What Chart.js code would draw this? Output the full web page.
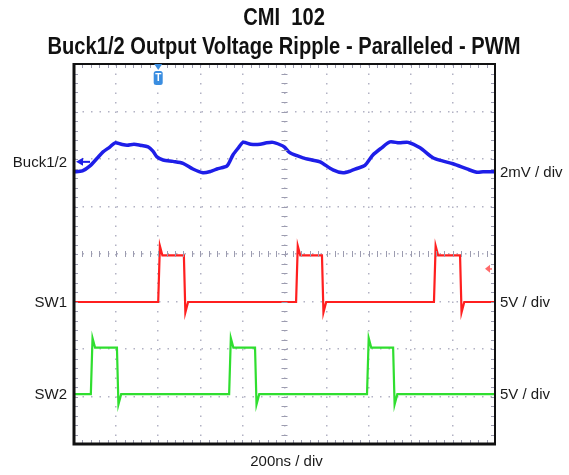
<!DOCTYPE html>
<html>
<head>
<meta charset="utf-8">
<title>CMI 102 - Buck1/2 Output Voltage Ripple</title>
<script src="https://cdn.jsdelivr.net/npm/chart.js@4.4.1/dist/chart.umd.min.js"></script>
<style>
    html, body { margin: 0; padding: 0; background: #ffffff; }
    #wrap { width: 569px; height: 475px; position: relative; }
</style>
</head>
<body>
<div id="wrap"><canvas id="scopeChart"></canvas></div>
<script>
// Titles and labels
const titleLines = ['CMI  102', 'Buck1/2 Output Voltage Ripple - Paralleled - PWM'];
const channelNames = ['Buck1/2', 'SW1', 'SW2'];
const channelScaleText = ['2mV / div', '5V / div', '5V / div'];
const timeBaseText = '200ns / div';

// Time base: 200 ns per division, 10 divisions
const nsPerDiv = 200;
const timeDivs = 10;
const vertDivs = 8;

// Buck1/2 output ripple, AC coupled (ns, mV)
const rippleTime = [0, 40, 76, 110, 138, 170, 195, 225, 252, 285, 314, 352, 375, 394, 423, 470, 518, 565, 613, 650, 679, 727,
    755, 780, 803, 840, 884, 915, 945, 979, 1000, 1026, 1088, 1130, 1169, 1230, 1278, 1315, 1344, 1382, 1420, 1460, 1501,
    1545, 1587, 1644, 1705, 1750, 1800, 1867, 1914, 1943, 2000];
const rippleMv = [-0.42, -0.38, -0.17, 0.15, 0.42, 0.62, 0.80, 0.74, 0.70, 0.74, 0.70, 0.63, 0.45, 0.21, 0.08, 0.02, -0.06,
    -0.30, -0.46, -0.40, -0.30, -0.17, 0.29, 0.58, 0.82, 0.74, 0.74, 0.80, 0.82, 0.72, 0.62, 0.38, 0.17, 0.08, 0.00, -0.34,
    -0.46, -0.38, -0.28, -0.15, 0.29, 0.58, 0.84, 0.80, 0.82, 0.59, 0.17, 0.04, -0.08, -0.30, -0.44, -0.42, -0.42];

// Switch nodes: edge times (ns) and levels (V)
const sw1Rise = [400, 1055, 1710];
const sw1Fall = [522, 1178, 1834];
const sw2Rise = [80, 737, 1392];
const sw2Fall = [204, 860, 1516];
const swHigh = 4.9;
const swOvershoot = 5.9;
const swUndershoot = -1.1;

// Scope channel settings: units per division, ground marker position (divisions from bottom)
const buckPerDiv = 2, buckOffset = 5.94;
const sw1PerDiv = 5, sw1Offset = 2.99;
const sw2PerDiv = 5, sw2Offset = 1.05;
const triggerTime = 400;   // ns
const triggerLevel = 3.5;  // V on SW1

const colors = {
    buck: '#1e1ee8',
    sw1: '#ff1f1f',
    sw2: '#2fde2f',
    trigger: '#3a8de0',
    grid: '#b2b2c4',
    text: '#1a1a1a'
};

function switchTrace(rise, fall) {
    const pts = [{ x: 0, y: 0 }];
    rise.forEach((r, i) => {
        const f = fall[i];
        pts.push({ x: r, y: 0 }, { x: r + 8, y: swOvershoot }, { x: r + 20, y: swHigh },
                 { x: f, y: swHigh }, { x: f + 7, y: swUndershoot }, { x: f + 20, y: 0 });
    });
    pts.push({ x: nsPerDiv * timeDivs, y: 0 });
    return pts;
}

function channelAxis(perDiv, offset) {
    return { type: 'linear', display: false, min: -offset * perDiv, max: (vertDivs - offset) * perDiv };
}

// Frame, minor ticks, markers and labels
const scopeDecor = {
    id: 'scopeDecor',
    afterDraw(chart) {
        const { ctx, chartArea: a, scales } = chart;
        const xs = scales.x, yg = scales.yGrid;
        ctx.save();

        // minor ticks along the centre cross and frame edges
        ctx.strokeStyle = '#9c9cb0';
        ctx.lineWidth = 1;
        ctx.beginPath();
        const cx = xs.getPixelForValue(nsPerDiv * timeDivs / 2);
        const cy = yg.getPixelForValue(vertDivs / 2);
        for (let i = 1; i < timeDivs * 5; i++) {
            const px = Math.round(xs.getPixelForValue(i * nsPerDiv / 5)) + 0.5;
            ctx.moveTo(px, cy - 3); ctx.lineTo(px, cy + 3);
            ctx.moveTo(px, a.top); ctx.lineTo(px, a.top + 4);
            ctx.moveTo(px, a.bottom); ctx.lineTo(px, a.bottom - 4);
        }
        for (let i = 1; i < vertDivs * 5; i++) {
            const py = Math.round(yg.getPixelForValue(i / 5)) + 0.5;
            ctx.moveTo(cx - 3, py); ctx.lineTo(cx + 3, py);
            ctx.moveTo(a.left, py); ctx.lineTo(a.left + 4, py);
            ctx.moveTo(a.right, py); ctx.lineTo(a.right - 4, py);
        }
        ctx.stroke();

        // frame
        ctx.strokeStyle = '#111';
        ctx.lineWidth = 2;
        ctx.strokeRect(a.left, a.top, a.right - a.left, a.bottom - a.top);
        ctx.lineWidth = 3;
        ctx.beginPath();
        ctx.moveTo(a.left, a.top - 1); ctx.lineTo(a.left, a.bottom); ctx.lineTo(a.right + 1, a.bottom);
        ctx.stroke();

        // Buck1/2 channel marker
        const by = scales.yBuck.getPixelForValue(0);
        ctx.fillStyle = colors.buck;
        ctx.beginPath();
        ctx.moveTo(a.left + 2, by); ctx.lineTo(a.left + 9, by - 4); ctx.lineTo(a.left + 9, by + 4);
        ctx.closePath(); ctx.fill();
        ctx.fillRect(a.left + 8, by - 1, 8, 2);

        // trigger level marker on SW1
        const ty = scales.ySw1.getPixelForValue(triggerLevel);
        ctx.fillStyle = '#ff6a6a';
        ctx.beginPath();
        ctx.moveTo(a.right - 10, ty); ctx.lineTo(a.right - 5, ty - 4); ctx.lineTo(a.right - 5, ty + 4);
        ctx.closePath(); ctx.fill();
        ctx.fillRect(a.right - 6, ty - 0.5, 3, 1.5);

        // trigger time marker
        const tx = xs.getPixelForValue(triggerTime);
        ctx.fillStyle = colors.trigger;
        ctx.beginPath();
        ctx.moveTo(tx - 4, a.top); ctx.lineTo(tx + 4, a.top); ctx.lineTo(tx, a.top + 6);
        ctx.closePath(); ctx.fill();
        ctx.beginPath();
        ctx.roundRect(tx - 4.5, a.top + 7, 9, 14, 2.5);
        ctx.fill();
        ctx.fillStyle = '#fff';
        ctx.font = 'bold 10px "Liberation Sans", Arial, sans-serif';
        ctx.textAlign = 'center';
        ctx.textBaseline = 'middle';
        ctx.fillText('T', tx, a.top + 14.5);

        // channel labels
        ctx.fillStyle = colors.text;
        ctx.font = '15px "Liberation Sans", Arial, sans-serif';
        const axisIds = ['yBuck', 'ySw1', 'ySw2'];
        const lastVals = [rippleMv[rippleMv.length - 1], 0, 0];
        axisIds.forEach((id, i) => {
            ctx.textAlign = 'right';
            ctx.fillText(channelNames[i], a.left - 7, scales[id].getPixelForValue(0) + 1);
            ctx.textAlign = 'left';
            ctx.fillText(channelScaleText[i], a.right + 5, scales[id].getPixelForValue(lastVals[i]) + 1);
        });
        ctx.textAlign = 'center';
        ctx.fillText(timeBaseText, cx + 2, a.bottom + 18);

        // titles, narrow bold
        ctx.font = 'bold 24px "Liberation Sans Narrow", "Liberation Sans", Arial, sans-serif';
        const sx = 473 / ctx.measureText(titleLines[1]).width;
        ctx.translate(284, 0);
        ctx.scale(sx, 1);
        ctx.fillStyle = '#111';
        ctx.fillText(titleLines[0], 0, 18);
        ctx.fillText(titleLines[1], 0, 47);
        ctx.restore();
    }
};

const ctx = document.getElementById('scopeChart');
new Chart(ctx, {
    type: 'line',
    data: {
        datasets: [
            {
                label: channelNames[0],
                data: rippleTime.map((t, i) => ({ x: t, y: rippleMv[i] })),
                borderColor: colors.buck,
                borderWidth: 3.5,
                pointRadius: 0,
                tension: 0.25,
                yAxisID: 'yBuck'
            },
            {
                label: channelNames[1],
                data: switchTrace(sw1Rise, sw1Fall),
                borderColor: colors.sw1,
                borderWidth: 2.2,
                pointRadius: 0,
                tension: 0,
                yAxisID: 'ySw1'
            },
            {
                label: channelNames[2],
                data: switchTrace(sw2Rise, sw2Fall),
                borderColor: colors.sw2,
                borderWidth: 2.2,
                pointRadius: 0,
                tension: 0,
                yAxisID: 'ySw2'
            }
        ]
    },
    options: {
        responsive: true,
        maintainAspectRatio: false,
        animation: false,
        layout: { padding: { left: 74, right: 74, top: 64, bottom: 31 } },
        plugins: {
            legend: { display: false },
            title: { display: false },
            tooltip: { enabled: false }
        },
        scales: {
            x: {
                type: 'linear',
                min: 0,
                max: nsPerDiv * timeDivs,
                ticks: { stepSize: nsPerDiv, display: false },
                grid: { color: colors.grid, lineWidth: 1.5, drawTicks: false },
                border: { display: false, dash: [1.5, 8] }
            },
            yGrid: {
                type: 'linear',
                position: 'left',
                min: 0,
                max: vertDivs,
                ticks: { stepSize: 1, display: false },
                grid: { color: colors.grid, lineWidth: 1.5, drawTicks: false },
                border: { display: false, dash: [1.5, 7] }
            },
            yBuck: channelAxis(buckPerDiv, buckOffset),
            ySw1: channelAxis(sw1PerDiv, sw1Offset),
            ySw2: channelAxis(sw2PerDiv, sw2Offset)
        }
    },
    plugins: [scopeDecor]
});
</script>
</body>
</html>
